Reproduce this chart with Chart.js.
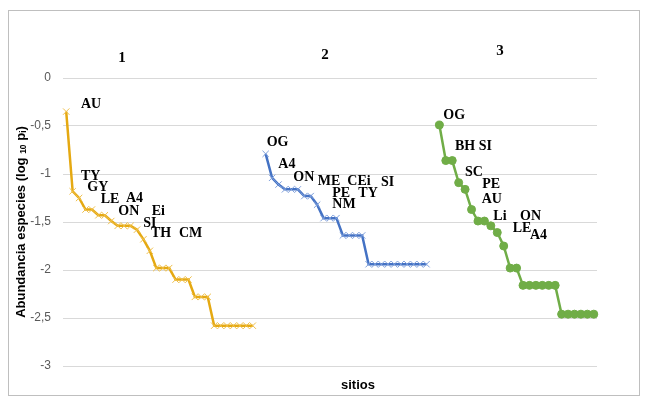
<!DOCTYPE html>
<html><head><meta charset="utf-8">
<script src="https://cdn.jsdelivr.net/npm/chart.js@4"></script>
<style>html,body{margin:0;padding:0;background:#fff}#wrap{width:647px;height:403px;position:relative}</style>
</head><body><div id="wrap"><canvas id="c" width="647" height="403"></canvas></div>
<script>
// ---- data ----
const site1Values = [-0.35, -1.18, -1.25, -1.37, -1.37, -1.43, -1.43, -1.49, -1.54, -1.54, -1.54, -1.58, -1.68, -1.80,
  -1.98, -1.98, -1.98, -2.10, -2.10, -2.10, -2.28, -2.28, -2.28, -2.58, -2.58, -2.58, -2.58, -2.58, -2.58, -2.58];
const site2Values = [-0.79, -1.04, -1.11, -1.16, -1.16, -1.16, -1.23, -1.23, -1.32, -1.46, -1.46, -1.46, -1.64, -1.64,
  -1.64, -1.64, -1.94, -1.94, -1.94, -1.94, -1.94, -1.94, -1.94, -1.94, -1.94, -1.94];
const site3Values = [-0.49, -0.86, -0.86, -1.09, -1.16, -1.37, -1.49, -1.49, -1.54, -1.61, -1.75, -1.98, -1.98,
  -2.16, -2.16, -2.16, -2.16, -2.16, -2.16, -2.46, -2.46, -2.46, -2.46, -2.46, -2.46];
const groupNames = ['1', '2', '3'];
const yTickValues = [0, -0.5, -1, -1.5, -2, -2.5, -3];
const yTickLabels = ['0', '-0,5', '-1', '-1,5', '-2', '-2,5', '-3'];
// species text labels and their anchors in data units [category index, value]
const species1Text = ['AU', 'TY', 'GY', 'LE', 'A4', 'ON', 'Ei', 'SI', 'TH', 'CM'];
const species1At = [[2.3, -0.28], [2.3, -1.02], [3.28, -1.14], [5.36, -1.26], [9.29, -1.25], [8.1, -1.39], [13.29, -1.39], [11.98, -1.51], [13.18, -1.62], [17.53, -1.62]];
const species2Text = ['OG', 'A4', 'ON', 'ME', 'CEi', 'SI', 'PE', 'TY', 'NM'];
const species2At = [[31.16, -0.67], [32.96, -0.9], [35.29, -1.04], [39.09, -1.08], [43.69, -1.08], [48.92, -1.09], [41.36, -1.2], [45.4, -1.2], [41.36, -1.32]];
const species3Text = ['OG', 'BH SI', 'SC', 'PE', 'AU', 'Li', 'ON', 'LE', 'A4'];
const species3At = [[58.61, -0.385], [60.43, -0.716], [61.98, -0.986], [64.67, -1.104], [64.58, -1.26], [66.38, -1.445], [70.53, -1.445], [69.39, -1.566], [72.08, -1.635]];
const groupAt = [[8.67, 0.208], [40.22, 0.24], [67.42, 0.285]];

// ---- build category axis: the three site blocks separated by one empty category ----
const blocks = [site1Values, site2Values, site3Values];
const labels = [];
const seriesData = blocks.map(() => []);
blocks.forEach((vals, b) => {
  if (b > 0) { labels.push(''); seriesData.forEach(s => s.push(null)); }
  vals.forEach(v => {
    labels.push('');
    seriesData.forEach((s, k) => s.push(k === b ? v : null));
  });
});

const annotations = [];
[[species1Text, species1At], [species2Text, species2At], [species3Text, species3At]].forEach(([t, a]) => {
  t.forEach((txt, i) => annotations.push({ txt, at: a[i], font: 'bold 14px "Liberation Serif"', align: 'left' }));
});
groupNames.forEach((g, i) => annotations.push({ txt: g, at: groupAt[i], font: 'bold 15px "Liberation Serif"', align: 'center' }));

const decor = {
  id: 'decor',
  beforeDraw(chart) {
    const ctx = chart.ctx;
    ctx.save();
    ctx.fillStyle = '#fff';
    ctx.fillRect(0, 0, chart.width, chart.height);
    ctx.strokeStyle = '#bfbfbf';
    ctx.lineWidth = 1;
    ctx.strokeRect(8.5, 10.5, 631, 385);
    ctx.restore();
  },
  afterDraw(chart) {
    const ctx = chart.ctx;
    const xs = chart.scales.x, ys = chart.scales.y;
    ctx.save();
    ctx.fillStyle = '#000';
    ctx.textBaseline = 'middle';
    annotations.forEach(a => {
      ctx.font = a.font;
      ctx.textAlign = a.align;
      ctx.fillText(a.txt, xs.getPixelForValue(a.at[0]), ys.getPixelForValue(a.at[1]));
    });
    // x axis title
    ctx.font = 'bold 13px "Liberation Sans"';
    ctx.textAlign = 'center';
    ctx.fillText('sitios', 358, 385);
    // y axis title with subscripts
    ctx.translate(21, 222);
    ctx.rotate(-Math.PI / 2);
    const main = 'bold 13px "Liberation Sans"', sub = 'bold 8.5px "Liberation Sans"';
    const parts = [['Abundancia especies (log ', main, 0], ['10', sub, 3], [' p', main, 0], ['i', sub, 3], [')', main, 0]];
    let total = 0;
    parts.forEach(p => { ctx.font = p[1]; total += ctx.measureText(p[0]).width; });
    let x = -total / 2;
    ctx.textAlign = 'left';
    parts.forEach(p => { ctx.font = p[1]; ctx.fillText(p[0], x, p[2]); x += ctx.measureText(p[0]).width; });
    ctx.restore();
  }
};

new Chart(document.getElementById('c'), {
  type: 'line',
  data: {
    labels,
    datasets: [
      { data: seriesData[0], borderColor: '#e5a912', borderWidth: 2.5, pointStyle: 'crossRot', pointRadius: 4.5,
        pointBorderColor: '#f0c04a', pointBackgroundColor: '#f0c04a', pointBorderWidth: 1, tension: 0, spanGaps: false },
      { data: seriesData[1], borderColor: '#4472c4', borderWidth: 2.5, pointStyle: 'crossRot', pointRadius: 4.5,
        pointBorderColor: '#7fa0dc', pointBackgroundColor: '#7fa0dc', pointBorderWidth: 1, tension: 0, spanGaps: false },
      { data: seriesData[2], borderColor: '#70ad47', borderWidth: 2.5, pointStyle: 'circle', pointRadius: 4,
        pointBorderColor: '#70ad47', pointBackgroundColor: '#70ad47', pointBorderWidth: 1, tension: 0, spanGaps: false }
    ]
  },
  options: {
    responsive: false,
    animation: false,
    devicePixelRatio: 1,
    layout: { padding: { left: 0, top: 78, right: 50, bottom: 37 } },
    plugins: { legend: { display: false }, tooltip: { enabled: false } },
    scales: {
      x: { display: false, offset: true },
      y: {
        min: -3, max: 0,
        afterBuildTicks: s => { s.ticks = yTickValues.map(v => ({ value: v })); },
        afterFit: s => { s.width = 63; },
        ticks: {
          callback: (v) => yTickLabels[yTickValues.indexOf(v)],
          color: '#595959', font: { family: '"Liberation Sans"', size: 12 }, padding: 12
        },
        grid: { color: '#d9d9d9', drawTicks: false },
        border: { display: false }
      }
    }
  },
  plugins: [decor]
});
</script></body></html>
